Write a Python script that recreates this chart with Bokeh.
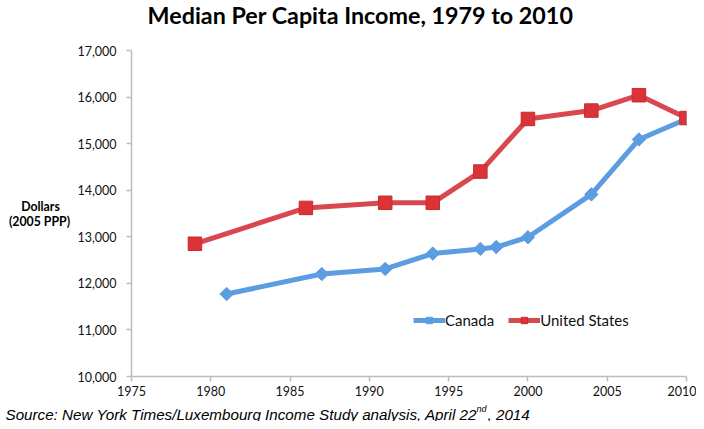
import math
from bokeh.plotting import figure
from bokeh.layouts import column, row
from bokeh.models import Range1d, FixedTicker, NumeralTickFormatter, Legend, LegendItem
from bokeh.core.properties import value
from bokeh.embed import file_html
from bokeh.resources import INLINE

# ---- data ----
canada_years = [1981, 1987, 1991, 1994, 1997, 1998, 2000, 2004, 2007, 2010]
canada_values = [11770, 12200, 12310, 12640, 12740, 12780, 12990, 13910, 15090, 15530]
us_years = [1979, 1986, 1991, 1994, 1997, 2000, 2004, 2007, 2010]
us_values = [12850, 13620, 13730, 13730, 14400, 15530, 15710, 16040, 15550]
x_ticks = [1975, 1980, 1985, 1990, 1995, 2000, 2005, 2010]
y_ticks = [10000, 11000, 12000, 13000, 14000, 15000, 16000, 17000]

title_text = "Median Per Capita Income, 1979 to 2010"
ylabel_lines = ["Dollars", "(2005 PPP)"]
source_main = "Source: New York Times/Luxembourg Income Study analysis, April 22"
source_sup = "nd"
source_tail = ", 2014"

BLUE = "#5b9de0"
RED_LINE = "#d9484e"
RED_MARK = "#dc3339"
FONT = "Lato"
SRC_FONT = "Liberation Sans"

W = 696


def text_panel(width, height):
    f = figure(width=width, height=height, x_range=Range1d(0, width), y_range=Range1d(height, 0),
               output_backend="svg", toolbar_location=None,
               min_border_left=0, min_border_right=0, min_border_top=0, min_border_bottom=0)
    f.axis.visible = False
    f.grid.visible = False
    f.outline_line_color = None
    f.background_fill_color = "white"
    f.border_fill_color = "white"
    return f


# ---- title strip ----
title_fig = text_panel(W, 37)
title_fig.text(x=[360], y=[14.5], text=[title_text], text_font=value(FONT), text_font_style="bold",
               text_font_size="23.3px", text_align="center", text_baseline="middle", text_color="black")

# ---- y-label strip ----
ROW_H = 362
ylab_fig = text_panel(74, ROW_H)
ylab_fig.text(x=[40, 39], y=[173, 190], text=ylabel_lines, text_font=value(FONT), text_font_style="bold",
              text_font_size="12.3px", text_align="center", text_baseline="middle", text_color="black")

# ---- main chart ----
p = figure(width=W - 74, height=ROW_H,
           x_range=Range1d(1975, 2010), y_range=Range1d(10000, 17000),
           output_backend="svg", toolbar_location=None,
           min_border_left=53, min_border_right=10,
           min_border_top=13, min_border_bottom=23)
p.outline_line_color = None
p.xgrid.visible = False
p.ygrid.visible = False
p.background_fill_color = "white"
p.border_fill_color = "white"

for ax in (p.xaxis[0], p.yaxis[0]):
    ax.axis_line_color = "#bdbdbd"
    ax.axis_line_width = 1.5
    ax.major_tick_line_color = "#bdbdbd"
    ax.major_tick_line_width = 1.5
    ax.major_tick_out = 5
    ax.major_tick_in = 0
    ax.minor_tick_line_color = None
    ax.major_label_text_font = FONT
    ax.major_label_text_font_size = "12.5px"
    ax.major_label_text_color = "#111111"

p.xaxis[0].ticker = FixedTicker(ticks=x_ticks)
p.yaxis[0].ticker = FixedTicker(ticks=y_ticks)
p.yaxis[0].formatter = NumeralTickFormatter(format="0,0")
p.xaxis[0].major_label_standoff = 4
p.yaxis[0].major_label_standoff = 10

ca_line = p.line(canada_years, canada_values, line_color=BLUE, line_width=5)
ca_mark = p.scatter(canada_years, canada_values, marker="square", angle=math.pi / 4,
                    size=9.5, fill_color=BLUE, line_color=BLUE, line_width=1)
us_line = p.line(us_years, us_values, line_color=RED_LINE, line_width=5)
us_mark = p.scatter(us_years, us_values, marker="square", size=13.5,
                    fill_color=RED_MARK, line_color="#c52b31", line_width=1)

legend = Legend(items=[LegendItem(label="Canada", renderers=[ca_line, ca_mark]),
                       LegendItem(label="United States", renderers=[us_line, us_mark])],
                orientation="horizontal", location=(282, 47))
legend.glyph_width = 32
legend.glyph_height = 16
legend.label_standoff = 0
legend.spacing = 14
legend.padding = 0
legend.margin = 0
legend.label_text_font = FONT
legend.label_text_font_size = "15px"
legend.label_text_color = "#111111"
legend.background_fill_alpha = 0
legend.border_line_alpha = 0
p.add_layout(legend, "center")

# ---- source strip ----
src_fig = text_panel(W, 22)
src_fig.text(x=[5], y=[15], text=[source_main], text_font=value(SRC_FONT), text_font_style="italic",
             text_font_size="15.2px", text_align="left", text_baseline="alphabetic", text_color="black")
src_fig.text(x=[476], y=[9.5], text=[source_sup], text_font=value(SRC_FONT), text_font_style="italic",
             text_font_size="9px", text_align="left", text_baseline="alphabetic", text_color="black")
src_fig.text(x=[487], y=[15], text=[source_tail], text_font=value(SRC_FONT), text_font_style="italic",
             text_font_size="15.2px", text_align="left", text_baseline="alphabetic", text_color="black")

layout = column(title_fig, row(ylab_fig, p, spacing=0), src_fig, spacing=0)

open("out.html", "w").write(file_html(layout, INLINE))
